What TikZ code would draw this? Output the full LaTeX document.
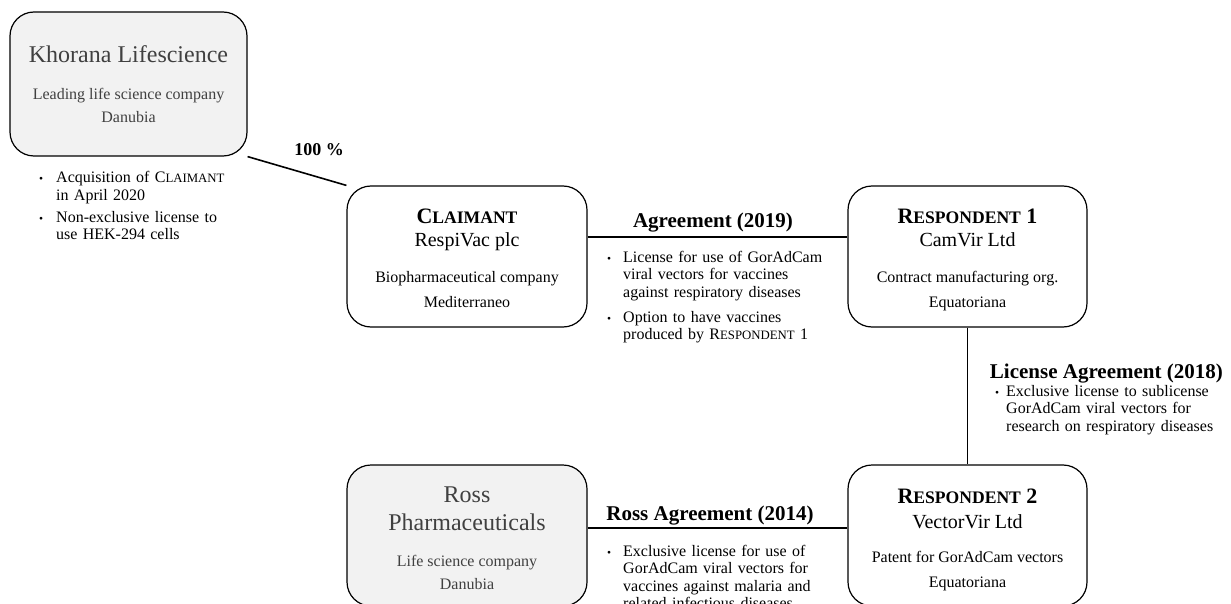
\documentclass[tikz,border=0pt]{standalone}
\usepackage{fontspec}
\setmainfont{Liberation Serif}
\usetikzlibrary{backgrounds}
\definecolor{boxgray}{HTML}{F2F2F2}
\definecolor{txtgray}{HTML}{404040}
\newcommand{\fsc}[4]{{\fontsize{#3}{#3}\selectfont#1\fontsize{#4}{#4}\selectfont#2}}
\newcommand{\bitem}[2][16pt]{\noindent\hangindent=#1\hangafter=1\makebox[#1][l]{\fontsize{11.5}{11.5}\selectfont\textbullet}#2\par}
\tikzset{
  box/.style={draw, line width=1.2pt, rounded corners=24pt, minimum width=239pt, minimum height=141pt, inner sep=0pt, fill=white},
  graybox/.style={box, fill=boxgray},
  bigname/.style={anchor=base, inner sep=0pt, text=txtgray, font=\fontsize{24}{24}\selectfont},
  bname/.style={anchor=base, inner sep=0pt, font=\bfseries},
  subname/.style={anchor=base, inner sep=0pt, font=\fontsize{20}{20}\selectfont},
  desc/.style={anchor=base, inner sep=0pt, font=\fontsize{16}{16}\selectfont},
  gdesc/.style={desc, text=txtgray},
  lbl/.style={inner sep=0pt, font=\fontsize{21}{21}\selectfont\bfseries},
  lst/.style={anchor=base west, inner sep=0pt, text width=280pt, align=left, font=\fontsize{16}{17.5}\selectfont},
  conn/.style={line width=1.6pt}
}
\begin{document}
\begin{tikzpicture}[x=1pt, y=-1pt]
\useasboundingbox (0,0) rectangle (1231,604);
\clip (0,0) rectangle (1231,604);

% boxes
\node[graybox, minimum width=237pt, minimum height=144pt] (kh) at (128.5,84) {};
\node[box, minimum width=240pt] (cl) at (467,256.5) {};
\node[box] (r1) at (967.5,256.5) {};
\node[box] (r2) at (967.5,535.5) {};
\node[graybox, minimum width=240pt] (ro) at (467,535.5) {};

% Khorana
\node[bigname] (khn) at (128.5,63) {Khorana Lifescience};
\node[gdesc] (khd) at (128.5,100) {Leading life science company};
\node[gdesc] (khc) at (128.5,123) {Danubia};
\node[lst] (khl) at (39,183) {\bitem[17pt]{Acquisition of \fsc{C}{LAIMANT}{16}{12.8}\newline in April 2020}\vspace{4.5pt}\bitem[17pt]{Non-exclusive license to\newline use HEK-294 cells}};

% Claimant
\node[bname] (cln) at (467,223) {\fsc{C}{LAIMANT}{22}{17.6}};
\node[subname] (cls) at (467,247) {RespiVac plc};
\node[desc] (cld) at (467,282) {Biopharmaceutical company};
\node[desc] (clc) at (467,307) {Mediterraneo};

% Respondent 1
\node[bname] (r1n) at (967.5,223) {\fsc{R}{ESPONDENT}{22}{17.6}\fontsize{22}{22}\selectfont{} 1};
\node[subname] (r1s) at (967.5,247) {CamVir Ltd};
\node[desc] (r1d) at (967.5,282) {Contract manufacturing org.};
\node[desc] (r1c) at (967.5,307) {Equatoriana};

% Respondent 2
\node[bname] (r2n) at (967.5,503) {\fsc{R}{ESPONDENT}{22}{17.6}\fontsize{22}{22}\selectfont{} 2};
\node[subname] (r2s) at (967.5,528) {VectorVir Ltd};
\node[desc] (r2d) at (967.5,562) {Patent for GorAdCam vectors};
\node[desc] (r2c) at (967.5,587) {Equatoriana};

% Ross
\node[bigname] (ron1) at (467,502) {Ross};
\node[bigname] (ron2) at (467,530) {Pharmaceuticals};
\node[gdesc] (rod) at (467,566) {Life science company};
\node[gdesc] (roc) at (467,589) {Danubia};

% connectors
\coordinate (ag) at (713,237);
\coordinate (ra) at (713,528);
\begin{scope}[on background layer]
\draw[conn] (kh.south east) -- (cl.north west);
\draw[conn] (ag -| cl.east) -- (ag -| r1.west);
\draw[conn] (r1.south) -- (r2.north);
\draw[conn] (ra -| ro.east) -- (ra -| r2.west);
\end{scope}

% labels
\node[lbl, anchor=base, font=\fontsize{18}{18}\selectfont\bfseries] (pct) at (319,156) {100 \%};
\node[lbl, anchor=base] (agl) at (713,228) {Agreement (2019)};
\node[lst] (agb) at (607,262) {\bitem[16pt]{License for use of GorAdCam\newline viral vectors for vaccines\newline against respiratory diseases}\vspace{7.5pt}\bitem[16pt]{Option to have vaccines\newline produced by \fsc{R}{ESPONDENT}{16}{12.8} 1}};

\node[lbl, anchor=base east] (lal) at (1223,378) {License Agreement (2018)};
\node[lst] (lab) at (995,396) {\bitem[11pt]{Exclusive license to sublicense\newline GorAdCam viral vectors for\newline research on respiratory diseases}};

\node[lbl, anchor=base] (ral) at (710,520) {Ross Agreement (2014)};
\node[lst] (rab) at (607,556) {\bitem[16pt]{Exclusive license for use of\newline GorAdCam viral vectors for\newline vaccines against malaria and\newline related infectious diseases}};
\end{tikzpicture}
\end{document}
